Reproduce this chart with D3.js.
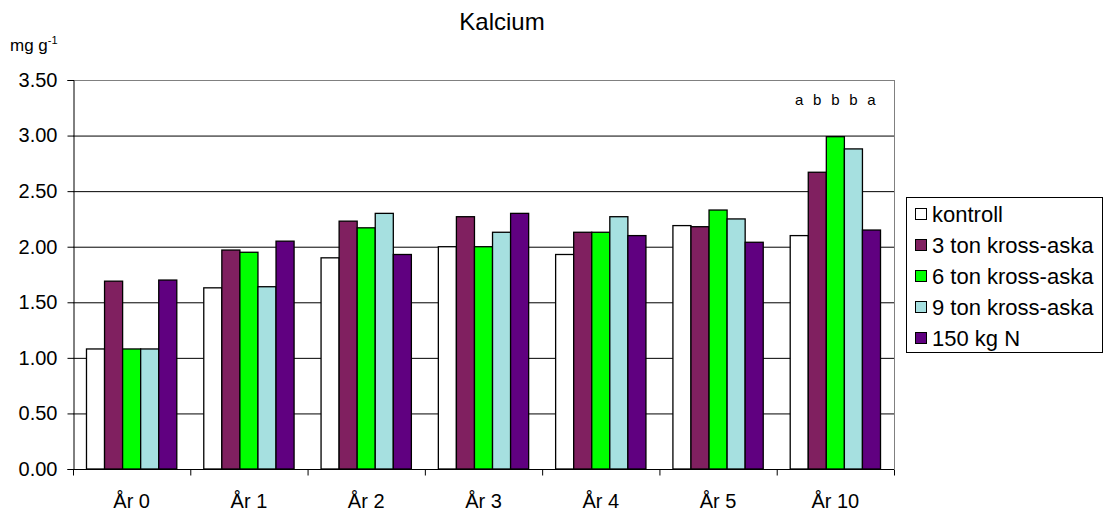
<!DOCTYPE html>
<html><head><meta charset="utf-8">
<script src="https://cdn.jsdelivr.net/npm/d3@7"></script>
<style>body{margin:0;background:#fff}svg{display:block;font-family:"Liberation Sans",Arial,sans-serif}</style>
</head><body><svg id="c" width="1111" height="515"></svg>
<script>
const categories = ["År 0","År 1","År 2","År 3","År 4","År 5","År 10"];
const seriesNames = ["kontroll","3 ton kross-aska","6 ton kross-aska","9 ton kross-aska","150 kg N"];
const seriesColors = ["#FFFFFF","#802060","#00FF00","#A6E0E0","#600080"];
const kontroll = [1.08,1.63,1.90,2.00,1.93,2.19,2.10];
const ton3 = [1.69,1.97,2.23,2.27,2.13,2.18,2.67];
const ton6 = [1.08,1.95,2.17,2.00,2.13,2.33,2.99];
const ton9 = [1.08,1.64,2.30,2.13,2.27,2.25,2.88];
const kgN150 = [1.70,2.05,1.93,2.30,2.10,2.04,2.15];
const yTicks = [0,0.5,1,1.5,2,2.5,3,3.5];
const sigLetters = ["a","b","b","b","a"];
const sigCategory = "År 10";

const series = [kontroll, ton3, ton6, ton9, kgN150];
const svg = d3.select("#c");
const L = 73, R = 894, T = 80, B = 469;

const x0 = d3.scaleBand().domain(categories).range([L, R]).paddingInner(0.23).paddingOuter(0.115);
const x1 = d3.scaleBand().domain(d3.range(seriesNames.length)).range([0, x0.bandwidth()]);
const y = d3.scaleLinear().domain([0, 3.5]).range([B, T]);

// gridlines
svg.append("g").selectAll("line").data(yTicks.filter(d => d > 0)).join("line")
  .attr("x1", L).attr("x2", R).attr("y1", d => y(d) + 0.5).attr("y2", d => y(d) + 0.5)
  .attr("stroke", "#000").attr("stroke-width", 1);
// plot border right/top
svg.append("line").attr("x1", R + 0.5).attr("x2", R + 0.5).attr("y1", T).attr("y2", B).attr("stroke", "#808080");
svg.append("line").attr("x1", L).attr("x2", R).attr("y1", T + 0.5).attr("y2", T + 0.5).attr("stroke", "#808080");

// bars
const g = svg.append("g");
categories.forEach((c, ci) => {
  series.forEach((s, si) => {
    g.append("rect")
      .attr("x", x0(c) + x1(si))
      .attr("y", y(s[ci]))
      .attr("width", x1.bandwidth())
      .attr("height", y(0) - y(s[ci]))
      .attr("fill", seriesColors[si])
      .attr("stroke", "#000").attr("stroke-width", 1.3);
  });
});

// y axis
const yAxis = d3.axisLeft(y).tickValues(yTicks).tickFormat(d3.format(".2f")).tickSize(6).tickPadding(10);
const ya = svg.append("g").attr("transform", `translate(${L + 0.5},0)`).call(yAxis);
ya.select(".domain").attr("stroke", "#000");
ya.selectAll(".tick line").attr("stroke", "#000");
ya.selectAll("text").attr("font-size", 20).attr("fill", "#000").attr("font-family", "Liberation Sans, Arial, sans-serif");

// x axis
const xAxisScale = d3.scalePoint().domain(d3.range(categories.length + 1)).range([L, R]);
const xa = svg.append("g").attr("transform", `translate(0,${B + 0.5})`);
xa.append("line").attr("x1", L).attr("x2", R).attr("stroke", "#000");
xa.selectAll("line.t").data(d3.range(categories.length + 1)).join("line").attr("class", "t")
  .attr("x1", d => xAxisScale(d) + 0.5).attr("x2", d => xAxisScale(d) + 0.5).attr("y1", 0).attr("y2", 6).attr("stroke", "#000");
xa.selectAll("text").data(categories).join("text")
  .attr("x", d => x0(d) + x0.bandwidth() / 2).attr("y", 38)
  .attr("text-anchor", "middle").attr("font-size", 20).text(d => d);

// significance letters
svg.selectAll("text.sig").data(sigLetters).join("text").attr("class", "sig")
  .attr("x", (d, i) => x0(sigCategory) + x1(i) + x1.bandwidth() / 2)
  .attr("y", 105).attr("text-anchor", "middle").attr("font-size", 15).text(d => d);

// title
svg.append("text").attr("x", 502).attr("y", 30).attr("text-anchor", "middle").attr("font-size", 24).text("Kalcium");
// unit
const u = svg.append("text").attr("x", 10).attr("y", 51).attr("font-size", 17);
u.append("tspan").text("mg g");
u.append("tspan").attr("dy", -7).attr("font-size", 11).text("-1");

// legend
const lg = svg.append("g");
lg.append("rect").attr("x", 906.5).attr("y", 197.5).attr("width", 196).attr("height", 155).attr("fill", "#fff").attr("stroke", "#000");
seriesNames.forEach((n, i) => {
  const base = 222 + i * 31;
  lg.append("rect").attr("x", 915.5).attr("y", base - 13.5).attr("width", 11).attr("height", 11)
    .attr("fill", seriesColors[i]).attr("stroke", "#000");
  lg.append("text").attr("x", 932).attr("y", base).attr("font-size", 22).text(n);
});
</script></body></html>
